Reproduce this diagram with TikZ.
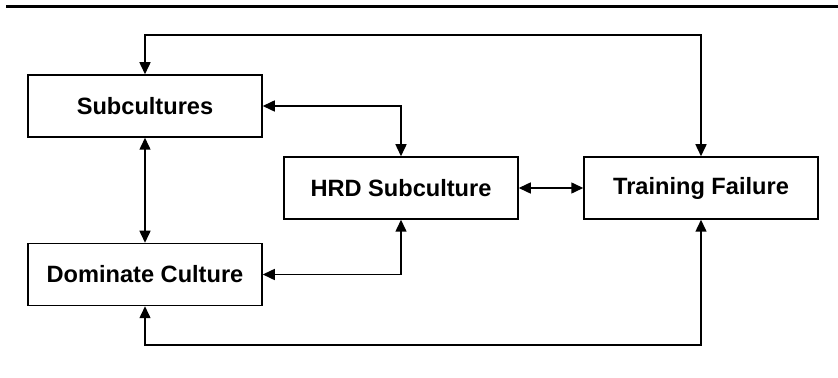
\documentclass[tikz,border=0pt]{standalone}
\usepackage{fontspec}
\setmainfont{Liberation Sans}
\usetikzlibrary{arrows.meta}

\tikzset{
  box/.style={draw, line width=0.75pt, minimum width=117pt, minimum height=31pt,
    inner sep=0pt, font=\fontsize{11.8}{14}\selectfont\bfseries},
  link/.style={line width=0.75pt,
    {Triangle[length=6pt,width=5.5pt]}-{Triangle[length=6pt,width=5.5pt]}}
}

\begin{document}
\begin{tikzpicture}[x=0.5pt,y=-0.5pt]
\useasboundingbox (0,0) rectangle (838,378);
\draw[line width=1.5pt] (6,7) -- (838,7); % rule above the figure
% the four boxes
\node[box] (sub) at (145,106) {Subcultures};
\node[box] (dom) at (145,274.5) {Dominate Culture};
\node[box] (hrd) at (401,188) {HRD Subculture};
\node[box] (fail) at (701,188) {Training Failure};
% turning points of the long loops
\coordinate (top) at (420,35);
\coordinate (bot) at (420,345);
\draw[link] (sub.north) |- (top) -| (fail.north);
\draw[link] (sub.east) -| (hrd.north);
\draw[link] (sub) -- (dom);
\draw[link] (hrd) -- (fail);
\draw[link] (dom.east) -| (hrd.south);
\draw[link] (dom.south) |- (bot) -| (fail.south);
\end{tikzpicture}
\end{document}
